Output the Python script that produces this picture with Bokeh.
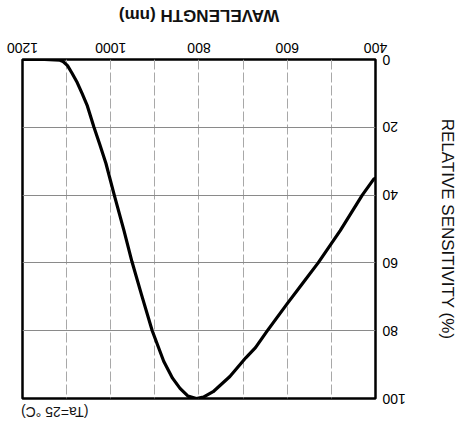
from bokeh.plotting import figure
from bokeh.models import Range1d, FixedTicker, LinearAxis
from bokeh.embed import file_html
from bokeh.resources import INLINE

# Data (the reference picture is the chart turned upside down)
wavelength = [1200, 1150, 1115, 1108, 1098, 1088, 1076, 1065, 1053, 1038, 1025,
              1011, 992, 970, 952, 930, 906, 880, 860, 843, 825, 806, 790,
              768, 730, 694, 672, 645, 600, 565, 530, 480, 430, 404, 400]
sensitivity = [0, 0, 0.2, 0.6, 1.8, 4, 6.8, 10, 13.7, 20, 25,
               30.6, 40, 50.5, 59.6, 69.5, 80, 89, 94, 97, 99.3, 100, 99.6,
               98, 93.5, 88, 85, 80, 72, 66, 60, 50.5, 40, 35.3, 35]

x_ticks = [400, 600, 800, 1000, 1200]
x_grid = [500, 600, 700, 800, 900, 1000, 1100]
y_ticks = [0, 20, 40, 60, 80, 100]
y_grid = [20, 40, 60, 80]

x_title = "WAVELENGTH (nm)"
y_title = "RELATIVE SENSITIVITY (%)"
note = "(Ta=25 °C)"
note_at = 1127  # wavelength position of the note

FONT = "Liberation Sans"

p = figure(width=460, height=423, output_backend="svg", toolbar_location=None,
           x_range=Range1d(400, 1200), y_range=Range1d(0, 100),
           min_border_left=79, min_border_right=23, min_border_top=22, min_border_bottom=60)

# the whole chart is shown turned by 180 degrees, as in the reference scan
p.styles = {"transform": "rotate(180deg)"}

p.background_fill_color = "white"
p.border_fill_color = "white"
p.outline_line_color = "black"
p.outline_line_width = 2.5


def style(ax, size="14px"):
    ax.major_tick_line_color = None
    ax.minor_tick_line_color = None
    ax.major_tick_out = 0
    ax.major_tick_in = 0
    ax.minor_tick_out = 0
    ax.minor_tick_in = 0
    ax.axis_line_color = None
    ax.major_label_text_font = FONT
    ax.major_label_text_font_size = size
    ax.major_label_text_color = "black"
    ax.axis_label_text_font = FONT
    ax.axis_label_text_color = "#111111"


xa = p.xaxis[0]
ya = p.yaxis[0]
style(xa)
style(ya)
xa.ticker = FixedTicker(ticks=x_ticks)
ya.ticker = FixedTicker(ticks=y_ticks)
xa.major_label_standoff = 7
ya.major_label_standoff = 7

xa.axis_label = x_title
xa.axis_label_text_font_size = "17px"
xa.axis_label_text_font_style = "bold"
xa.axis_label_standoff = 15

ya.axis_label = y_title
ya.axis_label_text_font_size = "17px"
ya.axis_label_text_font_style = "normal"
ya.axis_label_standoff = 29

# note above the frame (appears bottom-left after turning)
tn = LinearAxis(ticker=FixedTicker(ticks=[note_at]),
                major_label_overrides={note_at: note})
style(tn, "14px")
tn.major_label_text_color = "#111111"
tn.major_label_standoff = 5
tn.axis_label_standoff = 0
p.add_layout(tn, "above")

p.xgrid.ticker = FixedTicker(ticks=x_grid)
p.ygrid.ticker = FixedTicker(ticks=y_grid)
p.xgrid.grid_line_color = "#a8a8a8"
p.xgrid.grid_line_dash = "10 3"
p.xgrid.grid_line_width = 1
p.ygrid.grid_line_color = "#8a8a8a"
p.ygrid.grid_line_width = 1.2

p.line(wavelength, sensitivity, line_color="black", line_width=3.2, line_join="round")

open("out.html", "w").write(file_html(p, INLINE))
